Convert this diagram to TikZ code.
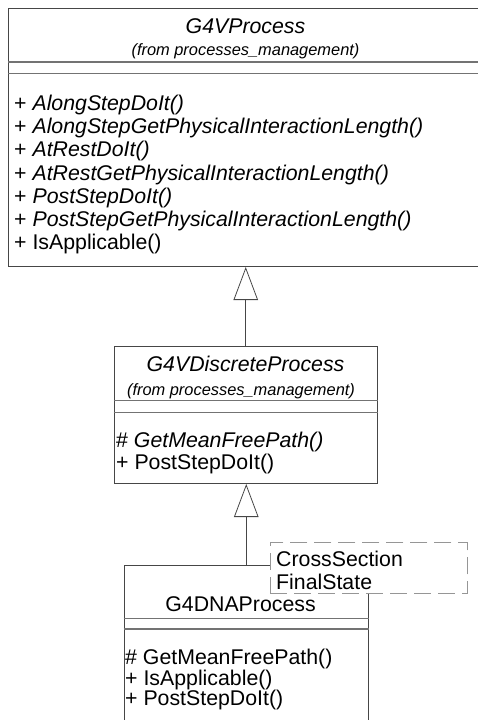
\documentclass[tikz,border=0pt]{standalone}
\usepackage{fontspec}
\setmainfont{Liberation Sans}
\usetikzlibrary{arrows.meta,positioning}
\definecolor{line_gray}{RGB}{70,70,70}
\definecolor{sep_gray}{RGB}{115,115,115}
\definecolor{note_gray}{RGB}{150,150,150}
\newcommand{\umlfont}{\fontsize{21.3}{23}\selectfont}
\newcommand{\umlsmall}{\fontsize{16.4}{18}\selectfont}
\tikzset{
  classbox/.style = {draw=line_gray, line width=1pt, fill=white, rectangle, inner sep=0pt, anchor=north west},
  sepline/.style = {draw=sep_gray, line width=1.2pt},
  cname/.style = {inner sep=0pt, anchor=base, font=\umlfont},
  cfrom/.style = {inner sep=0pt, anchor=base, font=\umlsmall\itshape},
  member/.style = {inner sep=0pt, anchor=base west, font=\umlfont},
  inherit/.style = {draw=line_gray, line width=0.8pt, -{Triangle[open, length=33pt, width=24.5pt]}},
  notebox/.style = {draw=note_gray, line width=0.8pt, dash pattern=on 17pt off 7pt, fill=white, rectangle, inner sep=0pt, anchor=north west}
}

\begin{document}
\begin{tikzpicture}[x=1pt, y=-1pt]
\useasboundingbox (0,0) rectangle (477,720);
% G4VProcess
\node[classbox, minimum width=480pt, minimum height=258pt] (vproc) at (8,8) {};
\draw[sepline] ([yshift=-54pt]vproc.north west) -- ([yshift=-54pt]vproc.north east);
\draw[sepline] ([yshift=-65.5pt]vproc.north west) -- ([yshift=-65.5pt]vproc.north east);
\node[cname, font=\umlfont\itshape] (vname) at (245.5,33.3) {G4VProcess};
\node[cfrom] (vfrom) at (245.5,55) {(from processes\_management)};
\foreach \op [count=\i] in {\textit{AlongStepDoIt()},
    \textit{AlongStepGetPhysicalInteractionLength()},
    \textit{AtRestDoIt()},
    \textit{AtRestGetPhysicalInteractionLength()},
    \textit{PostStepDoIt()},
    \textit{PostStepGetPhysicalInteractionLength()},
    IsApplicable()}
  \node[member] (vop\i) at (14,{110.5+23.2*(\i-1)}) {+ \op};

% G4VDiscreteProcess
\node[classbox, minimum width=263.5pt, minimum height=137pt] (dproc) at (113.5,346) {};
\draw[sepline] ([yshift=-54.7pt]dproc.north west) -- ([yshift=-54.7pt]dproc.north east);
\draw[sepline] ([yshift=-66.3pt]dproc.north west) -- ([yshift=-66.3pt]dproc.north east);
\node[cname, font=\umlfont\itshape] (dname) at (245.5,371) {G4VDiscreteProcess};
\node[cfrom] (dfrom) at (241,395) {(from processes\_management)};
\node[member] (dop1) at (116,447) {\# \textit{GetMeanFreePath()}};
\node[member] (dop2) at (116,469) {+ PostStepDoIt()};

% G4DNAProcess
\node[classbox, minimum width=244.5pt, minimum height=175pt] (dna) at (123.5,565) {};
\draw[sepline] ([yshift=-53.3pt]dna.north west) -- ([yshift=-53.3pt]dna.north east);
\draw[sepline] ([yshift=-64pt]dna.north west) -- ([yshift=-64pt]dna.north east);
\node[cname] (dnaname) at (240.5,611) {G4DNAProcess};
\node[member] (nop1) at (125,664) {\# GetMeanFreePath()};
\node[member] (nop2) at (125,685) {+ IsApplicable()};
\node[member] (nop3) at (125,705) {+ PostStepDoIt()};

% template parameters
\node[notebox, minimum width=197pt, minimum height=51pt] (tpl) at (270,542) {};
\node[member] (tcs) at (276,566.5) {CrossSection};
\node[member] (tfs) at (276,589) {FinalState};

% generalisation
\draw[inherit] (dproc.north) -- (dproc.north |- vproc.south);
\draw[inherit] (dna.north) -- (dna.north |- dproc.south);
\end{tikzpicture}
\end{document}
